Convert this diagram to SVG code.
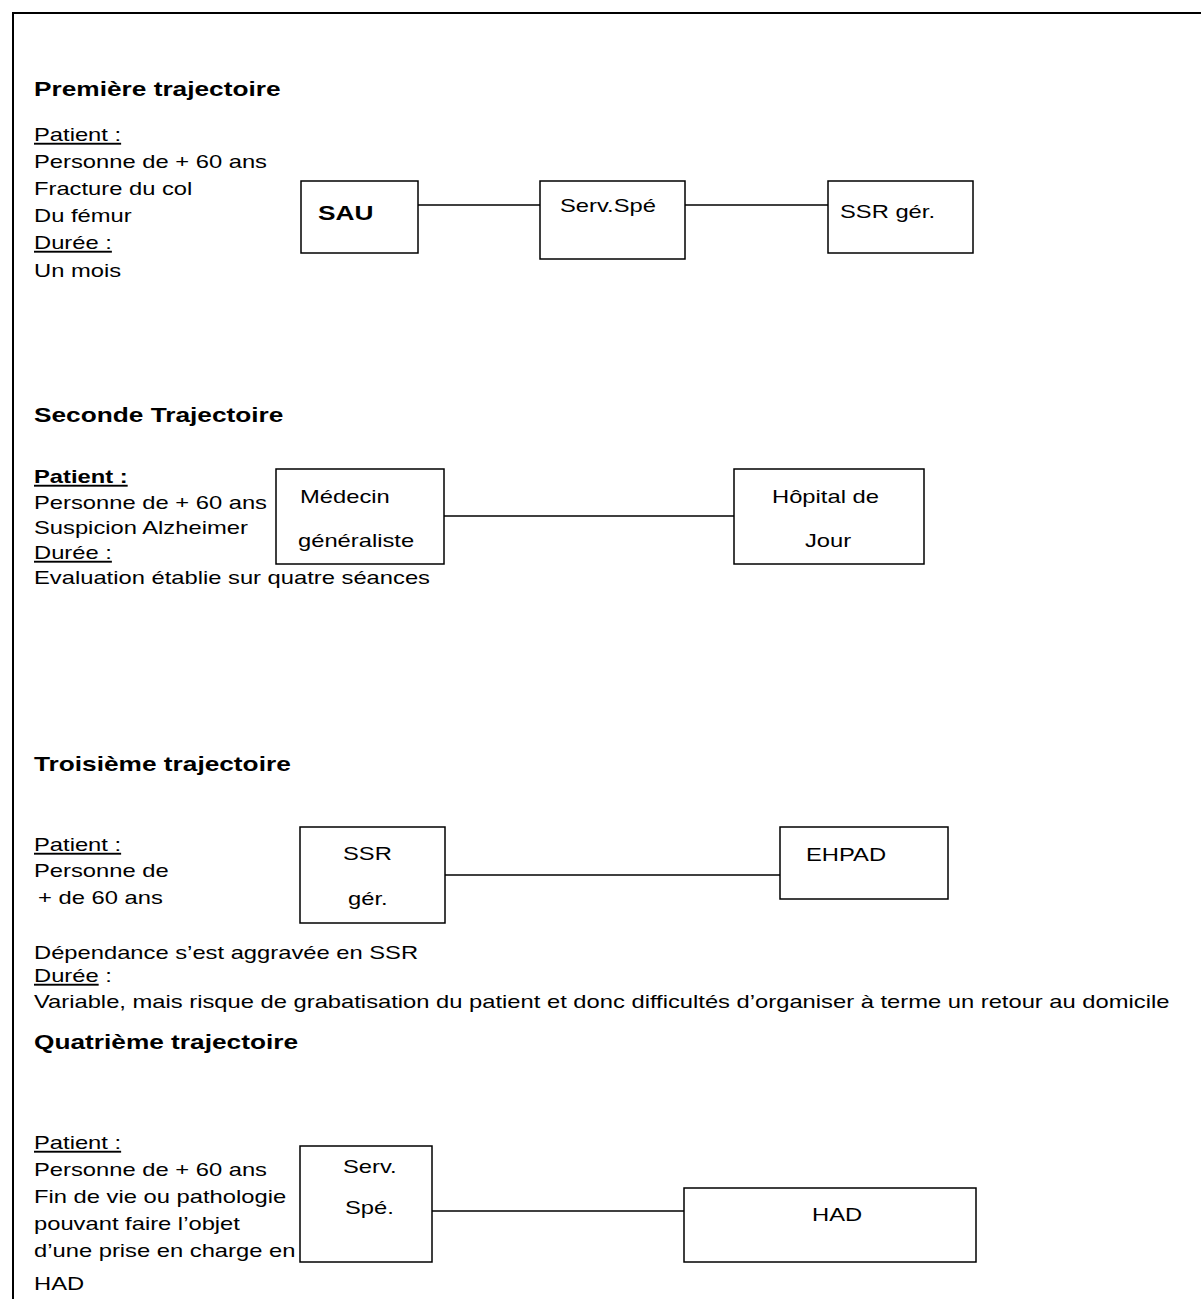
<svg xmlns="http://www.w3.org/2000/svg" width="1201" height="1299" viewBox="0 0 1201 1299">
<style>
text{font-family:"Liberation Sans",Arial,sans-serif;font-size:19px;fill:#000}
.h{font-weight:bold;font-size:21px}
.u{text-decoration:underline}
.box{fill:#fff;stroke:#000;stroke-width:1.5}
.con line{stroke:#000;stroke-width:1.5}
</style>
<rect width="1201" height="1299" fill="#fff"/>
<g id="frame"><path d="M13,1299 V13 H1201" fill="none" stroke="#000" stroke-width="2"/></g>

<g id="text-1">
<text class="h" transform="translate(34,96) scale(1.25,1)">Première trajectoire</text>
<text class="u" transform="translate(34,141) scale(1.25,1)">Patient :</text>
<text transform="translate(34,168) scale(1.25,1)">Personne de + 60 ans</text>
<text transform="translate(34,195) scale(1.25,1)">Fracture du col</text>
<text transform="translate(34,222) scale(1.25,1)">Du fémur</text>
<text class="u" transform="translate(34,249) scale(1.25,1)">Durée :</text>
<text transform="translate(34,277) scale(1.25,1)">Un mois</text>
</g>

<g id="connectors" class="con">
<line x1="418" y1="205" x2="540" y2="205"/>
<line x1="685" y1="205" x2="828" y2="205"/>
<line x1="444" y1="516" x2="734" y2="516"/>
<line x1="445" y1="875" x2="780" y2="875"/>
<line x1="432" y1="1211" x2="684" y2="1211"/>
</g>

<g id="node-sau"><rect class="box" x="301" y="181" width="117" height="72"/>
<text class="h" transform="translate(318,220) scale(1.25,1)">SAU</text></g>
<g id="node-servspe"><rect class="box" x="540" y="181" width="145" height="78"/>
<text transform="translate(560,212) scale(1.25,1)">Serv.Spé</text></g>
<g id="node-ssr1"><rect class="box" x="828" y="181" width="145" height="72"/>
<text transform="translate(840,218) scale(1.25,1)">SSR gér.</text></g>

<g id="text-2">
<text class="h" transform="translate(34,422) scale(1.25,1)">Seconde Trajectoire</text>
<text class="h u" style="font-size:19px" transform="translate(34,483) scale(1.25,1)">Patient :</text>
<text transform="translate(34,509) scale(1.25,1)">Personne de + 60 ans</text>
<text transform="translate(34,534) scale(1.25,1)">Suspicion Alzheimer</text>
<text class="u" transform="translate(34,559) scale(1.25,1)">Durée :</text>
<text transform="translate(34,584) scale(1.25,1)">Evaluation établie sur quatre séances</text>
</g>

<g id="node-medecin"><rect class="box" x="276" y="469" width="168" height="95"/>
<text transform="translate(300,503) scale(1.25,1)">Médecin</text>
<text transform="translate(298,547) scale(1.25,1)">généraliste</text></g>
<g id="node-hopital"><rect class="box" x="734" y="469" width="190" height="95"/>
<text transform="translate(772,503) scale(1.25,1)">Hôpital de</text>
<text transform="translate(805,547) scale(1.25,1)">Jour</text></g>

<g id="text-3">
<text class="h" transform="translate(34,771) scale(1.25,1)">Troisième trajectoire</text>
<text class="u" transform="translate(34,851) scale(1.25,1)">Patient :</text>
<text transform="translate(34,877) scale(1.25,1)">Personne de</text>
<text transform="translate(38,904) scale(1.25,1)">+ de 60 ans</text>
<text transform="translate(34,959) scale(1.25,1)">Dépendance s’est aggravée en SSR</text>
<text transform="translate(34,982) scale(1.25,1)"><tspan class="u">Durée</tspan> :</text>
<text transform="translate(34,1008) scale(1.25,1)">Variable, mais risque de grabatisation du patient et donc difficultés d’organiser à terme un retour au domicile</text>
</g>

<g id="node-ssr2"><rect class="box" x="300" y="827" width="145" height="96"/>
<text transform="translate(343,860) scale(1.25,1)">SSR</text>
<text transform="translate(348,905) scale(1.25,1)">gér.</text></g>
<g id="node-ehpad"><rect class="box" x="780" y="827" width="168" height="72"/>
<text transform="translate(806,861) scale(1.25,1)">EHPAD</text></g>

<g id="text-4">
<text class="h" transform="translate(34,1049) scale(1.25,1)">Quatrième trajectoire</text>
<text class="u" transform="translate(34,1149) scale(1.25,1)">Patient :</text>
<text transform="translate(34,1176) scale(1.25,1)">Personne de + 60 ans</text>
<text transform="translate(34,1203) scale(1.25,1)">Fin de vie ou pathologie</text>
<text transform="translate(34,1230) scale(1.25,1)">pouvant faire l’objet</text>
<text transform="translate(34,1257) scale(1.25,1)">d’une prise en charge en</text>
<text transform="translate(34,1290) scale(1.25,1)">HAD</text>
</g>

<g id="node-servspe2"><rect class="box" x="300" y="1146" width="132" height="116"/>
<text transform="translate(343,1173) scale(1.25,1)">Serv.</text>
<text transform="translate(345,1214) scale(1.25,1)">Spé.</text></g>
<g id="node-had"><rect class="box" x="684" y="1188" width="292" height="74"/>
<text transform="translate(812,1221) scale(1.25,1)">HAD</text></g>
</svg>
